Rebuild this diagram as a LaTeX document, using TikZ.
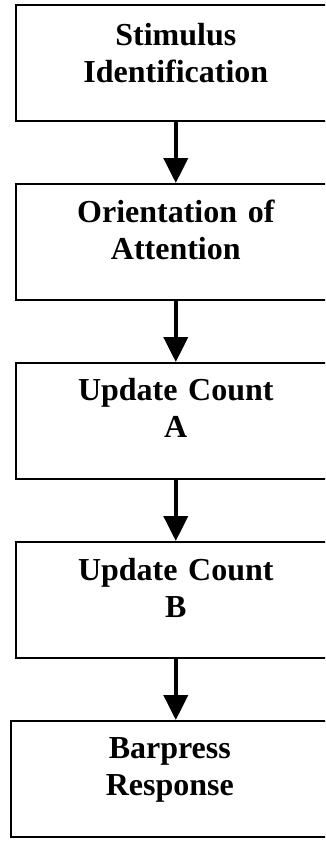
\documentclass[tikz,border=0pt]{standalone}
\usepackage{fontspec}
\setmainfont{Liberation Serif}
\usetikzlibrary{positioning,arrows.meta}

\begin{document}
\begin{tikzpicture}[x=1pt,y=1pt]
	\tikzset{>={Triangle[length=25pt,width=24pt]}}
	\tikzset{stagebox/.style={draw,line width=1.6pt,minimum width=320pt,minimum height=116pt,inner sep=0pt}}
	\tikzset{stagetxt/.style={anchor=base,align=center,text width=300pt,inner sep=0pt,font=\fontsize{32}{37}\selectfont\bfseries}}
	\tikzset{flow/.style={->,line width=4pt}}

	\clip (0,0) rectangle (325,-841);

	\node[stagebox,anchor=north west] (stim) at (15,-4) {};
	\node[stagebox,below=61.4pt of stim] (orient) {};
	\node[stagebox,below=61.4pt of orient] (counta) {};
	\node[stagebox,below=61.4pt of counta] (countb) {};
	\node[stagebox,minimum width=318pt,below=61.4pt of countb,xshift=-6pt] (press) {};

	\node[stagetxt] (stimtxt) at ([yshift=-41pt]stim.north) {Stimulus\\Identification};
	\node[stagetxt] (orienttxt) at ([yshift=-39pt]orient.north) {Orientation of\\Attention};
	\node[stagetxt] (countatxt) at ([yshift=-38pt]counta.north) {Update Count\\A};
	\node[stagetxt] (countbtxt) at ([yshift=-39pt]countb.north) {Update Count\\B};
	\node[stagetxt] (presstxt) at ([yshift=-38pt]press.north) {Barpress\\Response};

	\draw[flow] (stim.south) -- (orient.north);
	\draw[flow] (orient.south) -- (counta.north);
	\draw[flow] (counta.south) -- (countb.north);
	\draw[flow] (countb.south) -- (countb.south |- press.north);

\end{tikzpicture}
\end{document}
